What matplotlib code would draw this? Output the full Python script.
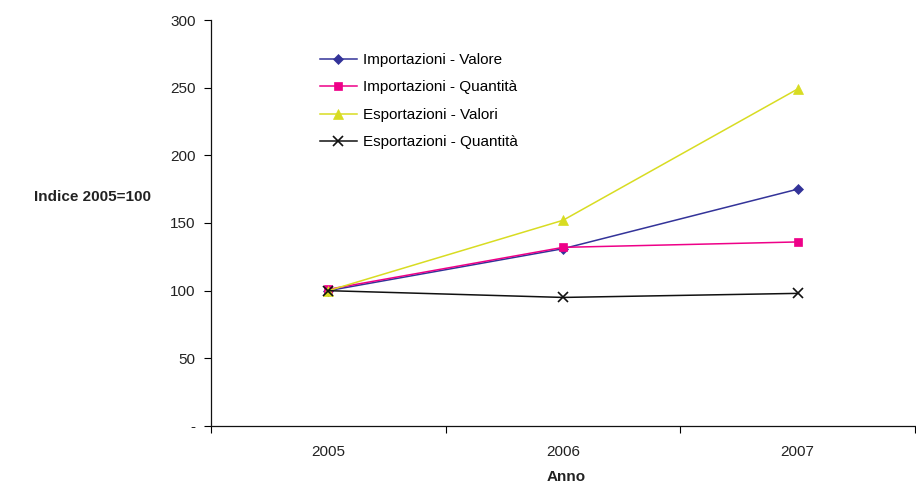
import matplotlib
matplotlib.use("Agg")
import matplotlib.pyplot as plt
from matplotlib.ticker import FixedLocator, FuncFormatter

plt.rcParams['font.family'] = ['Liberation Sans', 'DejaVu Sans']

years = ["2005", "2006", "2007"]
imp_valore = [100, 131, 175]
imp_quantita = [101, 132, 136]
esp_valori = [100, 152, 249]
esp_quantita = [100, 95, 98]

series = [
    ("Importazioni - Valore", imp_valore, "#333399", "D", 5.5),
    ("Importazioni - Quantità", imp_quantita, "#EE0088", "s", 5.5),
    ("Esportazioni - Valori", esp_valori, "#D8DC22", "^", 6.5),
    ("Esportazioni - Quantità", esp_quantita, "#111111", "x", 6.5),
]

FS = 11

fig = plt.figure(figsize=(9.16, 4.86), dpi=100)
ax = fig.add_axes([211 / 916, 1 - 426 / 486, (915 - 211) / 916, (426 - 20) / 486])

x = list(range(len(years)))
for label, vals, color, marker, ms in series:
    ax.plot(x, vals, color=color, marker=marker, markersize=ms, linewidth=1.1,
            markeredgewidth=1.2 if marker == "x" else 0.5,
            markeredgecolor=color, label=label)

ax.set_xlim(-0.5, len(years) - 0.5)
ax.set_ylim(0, 300)

ax.xaxis.set_major_locator(FixedLocator([i - 0.5 for i in range(len(years) + 1)]))
ax.xaxis.set_major_formatter(FuncFormatter(lambda v, p: ""))
ax.xaxis.set_minor_locator(FixedLocator(x))
ax.set_xticklabels(years, minor=True)
ax.tick_params(axis='x', which='minor', length=0, pad=14, labelsize=FS, colors='#222222')
ax.tick_params(axis='x', which='major', length=5, direction='out', width=0.8)

ax.set_yticks([0, 50, 100, 150, 200, 250, 300])
ax.yaxis.set_major_formatter(FuncFormatter(lambda v, p: "-" if v == 0 else f"{int(v)}"))
ax.tick_params(axis='y', length=5, direction='out', width=0.8, labelsize=FS, pad=6,
               labelcolor='#222222')

for side in ("top", "right"):
    ax.spines[side].set_visible(False)
for side in ("left", "bottom"):
    ax.spines[side].set_linewidth(0.9)
    ax.spines[side].set_color('#111111')

fig.text(93 / 916, 1 - 197 / 486, "Indice 2005=100", ha='center', va='center',
         fontsize=FS, fontweight='bold', color='#222222')
fig.text(566 / 916, 1 - 477 / 486, "Anno", ha='center', va='center',
         fontsize=FS, fontweight='bold', color='#222222')

ax.legend(loc='upper left', bbox_to_anchor=(320 / 916, 1 - 53 / 486),
          bbox_transform=fig.transFigure, frameon=False, fontsize=FS,
          handlelength=2.4, handletextpad=0.4, labelspacing=0.88,
          borderaxespad=0, borderpad=0)

fig.savefig("out.png", dpi=100)
